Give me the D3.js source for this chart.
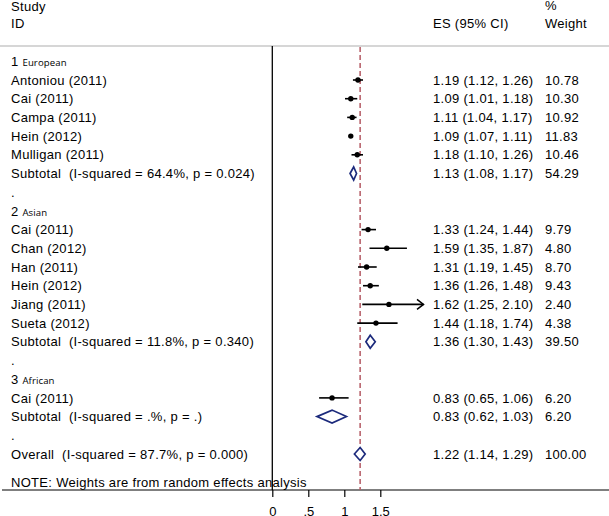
<svg id="svg" width="609" height="516"></svg>
<script src="https://cdn.jsdelivr.net/npm/d3@7"></script>
<script>
    // groups and studies
    var groups = ["European", "Asian", "African"];
    var studyIds = ["Antoniou (2011)", "Cai (2011)", "Campa (2011)", "Hein (2012)", "Mulligan (2011)",
        "Cai (2011)", "Chan (2012)", "Han (2011)", "Hein (2012)", "Jiang (2011)", "Sueta (2012)",
        "Cai (2011)"];
    var studyGroup = [0, 0, 0, 0, 0, 1, 1, 1, 1, 1, 1, 2];
    var studyES = [1.19, 1.09, 1.11, 1.09, 1.18, 1.33, 1.59, 1.31, 1.36, 1.62, 1.44, 0.83];
    var studyLo = [1.12, 1.01, 1.04, 1.07, 1.10, 1.24, 1.35, 1.19, 1.26, 1.25, 1.18, 0.65];
    var studyHi = [1.26, 1.18, 1.17, 1.11, 1.26, 1.44, 1.87, 1.45, 1.48, 2.10, 1.74, 1.06];
    var studyWeight = [10.78, 10.30, 10.92, 11.83, 10.46, 9.79, 4.80, 8.70, 9.43, 2.40, 4.38, 6.20];

    // subtotals per group
    var subLabels = ["Subtotal  (I-squared = 64.4%, p = 0.024)",
        "Subtotal  (I-squared = 11.8%, p = 0.340)",
        "Subtotal  (I-squared = .%, p = .)"];
    var subES = [1.13, 1.36, 0.83];
    var subLo = [1.08, 1.30, 0.62];
    var subHi = [1.17, 1.43, 1.03];
    var subWeight = [54.29, 39.50, 6.20];

    // overall
    var overallLabel = "Overall  (I-squared = 87.7%, p = 0.000)";
    var overallES = 1.22, overallLo = 1.14, overallHi = 1.29, overallWeight = 100.00;

    var tickValues = [0, 0.5, 1, 1.5];
    var tickLabels = ["0", ".5", "1", "1.5"];
    var noteText = "NOTE: Weights are from random effects analysis";

    var svg = d3.select("#svg");
    var font = "'Liberation Sans', Arial, sans-serif";
    var fs = "13px", ls = "0.3px";
    var navy = "#1c2a7c";

    function txt(sel, xx, yy, s) {
        return sel.append("text").attr("x", xx).attr("y", yy)
            .attr("font-family", font).attr("font-size", fs).attr("letter-spacing", ls)
            .attr("fill", "#000").style("white-space", "pre").text(s);
    }

    // build rows
    var rows = [];
    groups.forEach(function (g, gi) {
        rows.push({ type: "group", num: gi + 1, label: g });
        studyIds.forEach(function (s, i) {
            if (studyGroup[i] === gi) {
                rows.push({ type: "study", label: s, es: studyES[i], lo: studyLo[i], hi: studyHi[i], w: studyWeight[i] });
            }
        });
        rows.push({ type: "sub", label: subLabels[gi], es: subES[gi], lo: subLo[gi], hi: subHi[gi], w: subWeight[gi] });
        rows.push({ type: "dot", label: "." });
    });
    rows.push({ type: "overall", label: overallLabel, es: overallES, lo: overallLo, hi: overallHi, w: overallWeight });

    var x = d3.scaleLinear().domain([0, 1.5]).range([272.3, 380.3]);
    var y = d3.scaleLinear().domain([0, 1]).range([61.3, 80.0]);
    var axisY = 490;

    // header
    txt(svg, 11, 10.5, "Study");
    txt(svg, 11, 28.3, "ID");
    txt(svg, 433, 28.3, "ES (95% CI)");
    txt(svg, 545, 10.3, "%");
    txt(svg, 545, 28.3, "Weight");

    svg.append("line").attr("x1", 0).attr("x2", 609).attr("y1", 46).attr("y2", 46)
        .attr("stroke", "#c8c8c8").attr("stroke-width", 1.5);

    // vertical null line and axis baseline
    svg.append("line").attr("x1", x(0)).attr("x2", x(0)).attr("y1", 46).attr("y2", axisY)
        .attr("stroke", "#000").attr("stroke-width", 1.3);
    svg.append("line").attr("x1", 2).attr("x2", 609).attr("y1", axisY).attr("y2", axisY)
        .attr("stroke", "#000").attr("stroke-width", 1.2);

    var axis = d3.axisBottom(x).tickValues(tickValues)
        .tickFormat(function (d, i) { return tickLabels[i]; })
        .tickSize(7).tickPadding(9.3);
    var ax = svg.append("g").attr("transform", "translate(0," + axisY + ")").call(axis);
    ax.select(".domain").remove();
    ax.selectAll(".tick line").attr("stroke", "#000").attr("stroke-width", 1.2);
    ax.selectAll(".tick text").attr("font-family", font).attr("font-size", fs).attr("fill", "#000");

    // overall dashed line
    svg.append("line").attr("x1", x(overallES)).attr("x2", x(overallES)).attr("y1", 47).attr("y2", axisY)
        .attr("stroke", "#b45a64").attr("stroke-width", 1.5).attr("stroke-dasharray", "5,3");

    // rows
    var rowG = svg.selectAll("g.row").data(rows).enter().append("g")
        .attr("class", "row")
        .attr("transform", function (d, i) { return "translate(0," + y(i) + ")"; });

    rowG.each(function (d) {
        var g = d3.select(this);
        var t = txt(g, 11, 4.6, d.type === "group" ? d.num + " " : d.label);
        if (d.type === "group") {
            t.append("tspan").attr("font-family", "'Open Sans', sans-serif").attr("font-size", "9.6px")
                .attr("letter-spacing", "0.1px").text(d.label);
        }
        if (d.es !== undefined) {
            txt(g, 433, 4.6, d.es.toFixed(2) + " (" + d.lo.toFixed(2) + ", " + d.hi.toFixed(2) + ")");
            txt(g, 545, 4.6, d.w.toFixed(2));
        }
        if (d.type === "study") {
            g.append("line").attr("x1", x(d.lo)).attr("x2", x(d.hi)).attr("y1", 0).attr("y2", 0)
                .attr("stroke", "#000").attr("stroke-width", 1.6);
            if (d.hi > 2) {
                var xe = x(d.hi);
                g.append("path").attr("d", "M" + (xe - 6.5) + ",-5L" + xe + ",0L" + (xe - 6.5) + ",5")
                    .attr("fill", "none").attr("stroke", "#000").attr("stroke-width", 1.5);
            }
            g.append("circle").attr("cx", x(d.es)).attr("cy", 0).attr("r", 2.7).attr("fill", "#000");
        }
        if (d.type === "sub" || d.type === "overall") {
            g.append("path")
                .attr("d", "M" + x(d.lo) + ",0L" + x(d.es) + ",-6.5L" + x(d.hi) + ",0L" + x(d.es) + ",6.5Z")
                .attr("fill", "#fff").attr("stroke", navy).attr("stroke-width", 1.7);
        }
    });

    txt(svg, 11, 486.5, noteText);
</script>
<style>
    html,
    body {
        margin: 0;
        padding: 0;
        background: #fff;
    }
</style>
